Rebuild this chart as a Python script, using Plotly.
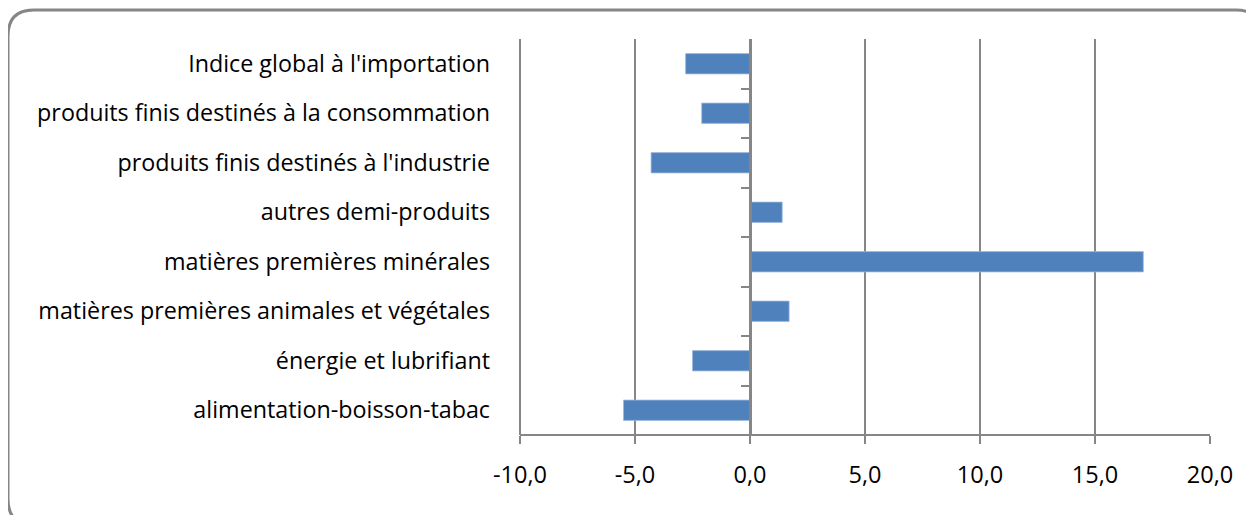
import plotly.graph_objects as go

categories = [
    "Indice global à l'importation",
    "produits finis destinés à la consommation",
    "produits finis destinés à l'industrie",
    "autres demi-produits",
    "matières premières minérales",
    "matières premières animales et végétales",
    "énergie et lubrifiant",
    "alimentation-boisson-tabac",
]
values = [-2.8, -2.1, -4.3, 1.4, 17.1, 1.7, -2.5, -5.5]
x_tickvals = [-10, -5, 0, 5, 10, 15, 20]
x_ticktext = ["-10,0", "-5,0", "0,0", "5,0", "10,0", "15,0", "20,0"]

OFF = 8  # page body margin
PAD = 2  # extra px on the left so the -10 gridline is drawn
W, H = 1254 - OFF, 515 - OFF
L, R, T, B = 520 - PAD - OFF, 1210 - OFF, 39 - OFF, 435 - OFF
FONT = "Open Sans"
GRAY = "#868686"

fig = go.Figure()
fig.add_trace(go.Bar(
    x=values, y=list(range(len(categories))), orientation="h",
    marker=dict(color="#4F81BD", line=dict(color="#9DB9DC", width=0.8)),
    width=0.41, showlegend=False, hoverinfo="x+y",
))

xmin, xmax = -10, 20
unit_px = (1210 - 520) / (xmax - xmin)
range_min = xmin - PAD / unit_px
zero_pos = (0 - range_min) / (xmax - range_min)

def px(x):
    return (x - OFF - L) / (R - L)

def py(y):
    return (B - (y - OFF)) / (B - T)

# rounded border (reference pixel coords)
x0, y0, x1, y1, r = 8, 10, 1262, 525, 26
path = (
    f"M {px(x0 + r)},{py(y0)} L {px(x1 - r)},{py(y0)} "
    f"Q {px(x1)},{py(y0)} {px(x1)},{py(y0 + r)} "
    f"L {px(x1)},{py(y1 - r)} Q {px(x1)},{py(y1)} {px(x1 - r)},{py(y1)} "
    f"L {px(x0 + r)},{py(y1)} Q {px(x0)},{py(y1)} {px(x0)},{py(y1 - r)} "
    f"L {px(x0)},{py(y0 + r)} Q {px(x0)},{py(y0)} {px(x0 + r)},{py(y0)} Z"
)
fig.add_shape(type="path", path=path, xref="paper", yref="paper",
              line=dict(color=GRAY, width=3), layer="below")

n = len(categories)
fig.update_layout(
    width=W, height=H,
    margin=dict(l=L, r=W - R, t=T, b=H - B, pad=0),
    paper_bgcolor="white", plot_bgcolor="white",
    separators=", ",
    bargap=0.6,
    font=dict(family=FONT, size=20, color="black"),
    xaxis=dict(
        range=[range_min, xmax], tickvals=x_tickvals, ticktext=x_ticktext,
        showgrid=True, gridcolor=GRAY, gridwidth=1.5,
        zeroline=False, showline=False,
        ticks="outside", ticklen=8, tickcolor=GRAY, tickwidth=2,
        tickfont=dict(family=FONT, size=23.5, color="black"),
        ticklabelstandoff=11,
    ),
    yaxis=dict(
        range=[n - 0.5, -0.5], tickvals=list(range(n)), ticktext=categories,
        showgrid=False, zeroline=False, showline=False, ticks="",
        tickfont=dict(family=FONT, size=23.3, color="black"),
        ticklabelstandoff=27,
    ),
    yaxis2=dict(
        type="linear", overlaying="y", anchor="free", position=zero_pos, side="left",
        range=[n - 0.5, -0.5], tickvals=[i + 0.5 for i in range(n - 1)],
        showticklabels=False, showgrid=False, zeroline=False,
        showline=True, linecolor=GRAY, linewidth=2.5,
        ticks="outside", ticklen=8, tickcolor=GRAY, tickwidth=2,
    ),
)
# bottom axis line from -10 to 20
fig.add_shape(type="line", xref="x", yref="paper", x0=xmin, x1=xmax, y0=0, y1=0,
              line=dict(color=GRAY, width=2))
fig.add_trace(go.Scatter(x=[None], y=[None], yaxis="y2", showlegend=False))

fig.write_html("out.html")
